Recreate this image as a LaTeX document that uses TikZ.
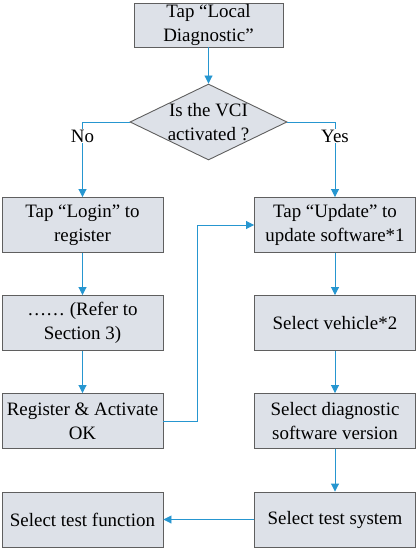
\documentclass[tikz,border=0pt]{standalone}
\usepackage{fontspec}
\setmainfont{Liberation Serif}
\usetikzlibrary{shapes.geometric,arrows.meta}
\definecolor{flowblue}{RGB}{38,150,208}
\definecolor{boxfill}{RGB}{221,225,232}
\definecolor{boxline}{RGB}{95,95,95}
\tikzset{
  stepbox/.style={draw=boxline, fill=boxfill, line width=0.9bp, minimum width=161bp, minimum height=55bp, inner sep=0pt, align=center, font=\fontsize{19}{24}\selectfont},
  flow/.style={draw=flowblue, line width=0.9bp, -{Triangle[length=8bp,width=8bp]}},
  flowline/.style={draw=flowblue, line width=0.9bp},
  lbl/.style={fill=white, inner sep=1bp, font=\fontsize{19}{24}\selectfont}
}
\begin{document}
\begin{tikzpicture}[x=1bp,y=-1bp]
\useasboundingbox (0,0) rectangle (418,550);
\node[stepbox, minimum width=149bp, minimum height=44bp] (start) at (208.5,25) {Tap “Local\\Diagnostic”};
\node[diamond, draw=boxline, fill=boxfill, line width=0.9bp, minimum width=157bp, minimum height=76bp, inner sep=0pt] (dec) at (208.5,122) {};
\node[align=center, font=\fontsize{19}{24}\selectfont] (dectext) at (dec.center) {Is the VCI\\activated ?};

\node[stepbox] (login) at (82.5,225) {Tap “Login” to\\register};
\node[stepbox] (refer) at (82.5,323) {…… (Refer to\\Section 3)};
\node[stepbox] (reg) at (82.5,421) {Register \& Activate\\OK};
\node[stepbox] (func) at (82.5,519.5) {Select test function};

\node[stepbox] (upd) at (335,225) {Tap “Update” to\\update software*1};
\node[stepbox] (veh) at (335,323) {Select vehicle*2};
\node[stepbox] (ver) at (335,421) {Select diagnostic\\software version};
\node[stepbox] (sys) at (335,519.5) {Select test system};

\coordinate (noc) at (82.5,122);
\coordinate (yesc) at (335,122);
\coordinate (regc) at (197,421);
\coordinate (updc) at (197,225);

\draw[flow] (start.south) -- (dec.north);
\draw[flow] (dec.west) -- (noc) -- (login.north);
\draw[flow] (dec.east) -- (yesc) -- (upd.north);
\node[lbl] (no) at (82.5,136) {No};
\node[lbl] (yes) at (335,136) {Yes};

\draw[flow] (login) -- (refer);
\draw[flow] (refer) -- (reg);
\draw[flow] (reg.east) -- (regc) -- (updc) -- (upd.west);
\draw[flow] (upd) -- (veh);
\draw[flow] (veh) -- (ver);
\draw[flow] (ver) -- (sys);
\draw[flow] (sys) -- (func);
\end{tikzpicture}
\end{document}
